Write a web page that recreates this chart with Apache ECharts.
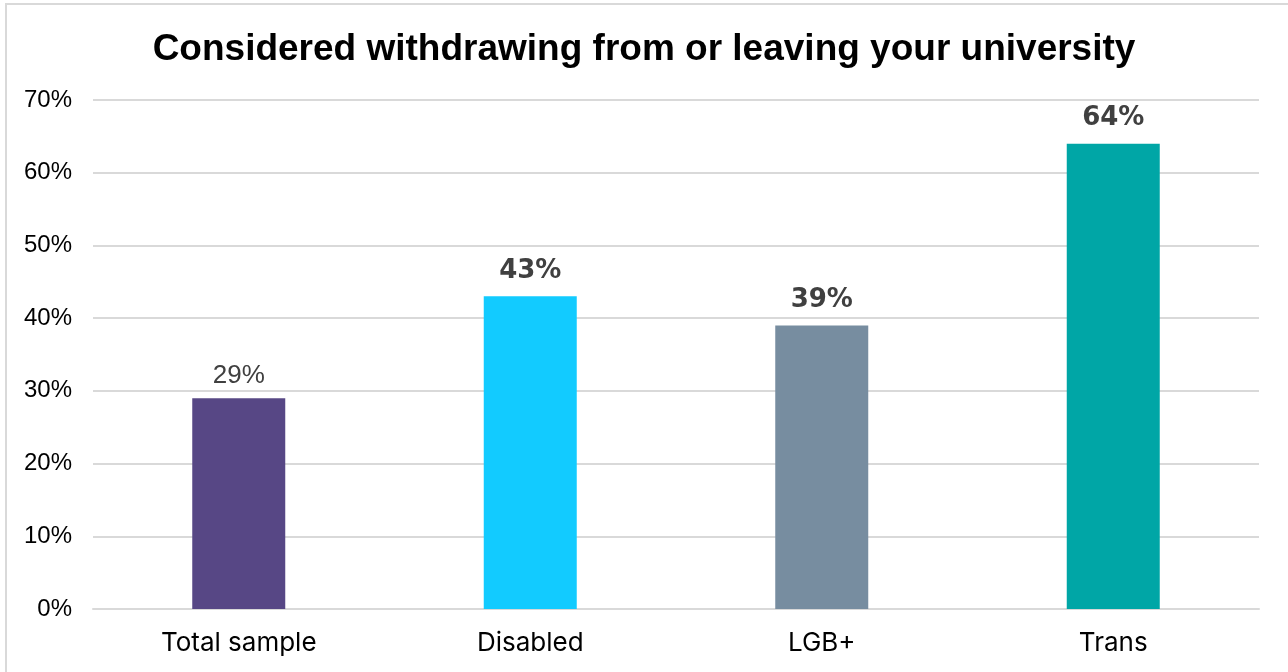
<!DOCTYPE html>
<html>
<head>
<meta charset="utf-8">
<script src="https://cdn.jsdelivr.net/npm/echarts@6/dist/echarts.min.js"></script>
<style>
  html, body { margin: 0; padding: 0; background: #ffffff; }
  #chart { width: 1288px; height: 672px; }
</style>
</head>
<body>
<div id="chart"></div>
<script>
// Share of students who considered withdrawing, by group
const categories = ['Total sample', 'Disabled', 'LGB+', 'Trans'];
const values = [29, 43, 39, 64];
const barColors = ['#574785', '#12CBFF', '#778DA0', '#00A6A6'];
const boldLabel = [false, true, true, true];
const yTicks = { min: 0, max: 70, interval: 10 };

const chart = echarts.init(document.getElementById('chart'), null, { renderer: 'canvas' });

const option = {
  backgroundColor: '#ffffff',
  animation: false,
  title: {
    text: 'Considered withdrawing from or leaving your university',
    left: 'center',
    top: 26,
    textStyle: {
      fontFamily: 'Liberation Sans, Arial, sans-serif',
      fontWeight: 'bold',
      fontSize: 37,
      color: '#000000'
    }
  },
  graphic: [{
    type: 'rect',
    shape: { x: 6, y: 4, width: 1300, height: 700 },
    style: { fill: 'none', stroke: '#d9d9d9', lineWidth: 2 },
    silent: true
  }],
  grid: { left: 93, right: 29, top: 100, bottom: 63, containLabel: false },
  xAxis: {
    type: 'category',
    data: categories,
    axisLine: { show: true, lineStyle: { color: '#d9d9d9', width: 2 } },
    axisTick: { show: false },
    axisLabel: {
      margin: 21,
      fontFamily: 'Inter, Open Sans, sans-serif',
      fontSize: 26,
      color: '#000000'
    }
  },
  yAxis: {
    type: 'value',
    min: yTicks.min,
    max: yTicks.max,
    interval: yTicks.interval,
    axisLine: { show: false },
    axisTick: { show: false },
    splitLine: { lineStyle: { color: '#d9d9d9', width: 2 } },
    axisLabel: {
      margin: 21,
      formatter: v => v + '%',
      fontFamily: 'Liberation Sans, Arial, sans-serif',
      fontSize: 24,
      color: '#000000'
    }
  },
  series: [{
    type: 'bar',
    barWidth: 93,
    data: values.map((v, i) => ({
      value: v,
      itemStyle: { color: barColors[i] },
      label: {
        show: true,
        position: 'top',
        distance: boldLabel[i] ? 12 : 9,
        formatter: '{c}%',
        fontFamily: boldLabel[i] ? 'DejaVu Sans, sans-serif' : 'Liberation Sans, Arial, sans-serif',
        fontWeight: boldLabel[i] ? 'bold' : 'normal',
        fontSize: boldLabel[i] ? 26 : 26,
        color: '#404040'
      }
    }))
  }]
};

chart.setOption(option);
</script>
</body>
</html>
